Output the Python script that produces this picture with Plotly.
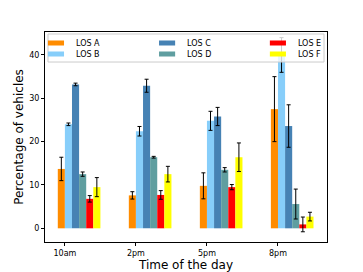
import plotly.graph_objects as go

categories = ["10am", "2pm", "5pm", "8pm"]
series_names = ["LOS A", "LOS B", "LOS C", "LOS D", "LOS E", "LOS F"]
los_a = [13.7, 7.6, 9.8, 27.5]
los_b = [24.0, 22.4, 24.8, 40.0]
los_c = [33.2, 32.9, 25.8, 23.6]
los_d = [12.5, 16.4, 13.5, 5.6]
los_e = [6.8, 7.7, 9.5, 0.9]
los_f = [9.5, 12.5, 16.4, 2.7]
err_a = [2.7, 0.85, 3.0, 7.5]
err_b = [0.3, 1.1, 2.2, 4.0]
err_c = [0.3, 1.5, 2.1, 4.9]
err_d = [0.5, 0.2, 0.5, 3.45]
err_e = [0.75, 1.0, 0.6, 1.7]
err_f = [2.2, 1.8, 3.3, 1.0]
y_ticks = [0, 10, 20, 30, 40]

values = [los_a, los_b, los_c, los_d, los_e, los_f]
errors = [err_a, err_b, err_c, err_d, err_e, err_f]
colors = ["#FF8C00", "#87CEFA", "#4682B4", "#5F9EA0", "#FF0000", "#FFFF00"]

# legend grid layout (column x / row y in paper coords)
leg_cols = [-0.032, 0.362, 0.755]
leg_rows = [0.9476, 0.8952]

bar_w = 0.1
fig = go.Figure()
legend_layouts = {}
for k, (name, vals, errs, col) in enumerate(zip(series_names, values, errors, colors)):
    lname = "legend" if k == 0 else f"legend{k + 1}"
    fig.add_trace(go.Bar(
        x=categories, y=vals, name=name,
        marker=dict(color=col, line=dict(width=0)),
        width=bar_w, offset=(k - 1) * bar_w,
        error_y=dict(type="data", array=errs, color="black", thickness=1, width=2),
        showlegend=False, legendgroup=name,
    ))
    # legend patch (matplotlib-style flat rectangle)
    fig.add_trace(go.Scatter(
        x=[None], y=[None], mode="markers", name=name, legendgroup=name,
        marker=dict(symbol="line-ew", size=11.5, color=col,
                    line=dict(color=col, width=5)),
        legend=lname, hoverinfo="skip",
    ))
    legend_layouts[lname] = dict(
        x=leg_cols[k // 2], y=leg_rows[k % 2], xanchor="left", yanchor="middle",
        bgcolor="rgba(0,0,0,0)", borderwidth=0, font=dict(size=8),
        itemclick=False, itemdoubleclick=False,
    )

font = "DejaVu Sans, Arial, sans-serif"
fig.update_layout(
    width=355, height=264,
    margin=dict(l=37, r=36, t=24, b=30, autoexpand=False),
    barmode="overlay",
    paper_bgcolor="white", plot_bgcolor="white",
    font=dict(family=font, size=8, color="black"),
    showlegend=True,
    xaxis=dict(
        range=[-0.28, 3.69], showline=True, linecolor="black", linewidth=1, mirror=True,
        ticks="outside", ticklen=3, tickcolor="black", showgrid=False, automargin=False,
        title=dict(text="Time of the day", font=dict(size=12), standoff=0),
        tickfont=dict(size=8),
    ),
    yaxis=dict(
        range=[-3.16, 45.3], tickvals=y_ticks, showline=True, linecolor="black", linewidth=1,
        mirror=True, ticks="outside", ticklen=3, tickcolor="black", showgrid=False,
        zeroline=False, automargin=False,
        title=dict(text="Percentage of vehicles", font=dict(size=12), standoff=3),
        tickfont=dict(size=8),
    ),
    shapes=[dict(
        type="rect", xref="paper", yref="paper",
        x0=0.0106, x1=0.9894, y0=0.857, y1=0.9905,
        fillcolor="rgba(255,255,255,0.8)", line=dict(color="#cccccc", width=1),
        layer="above",
    )],
    **legend_layouts,
)
fig.write_html("out.html")
